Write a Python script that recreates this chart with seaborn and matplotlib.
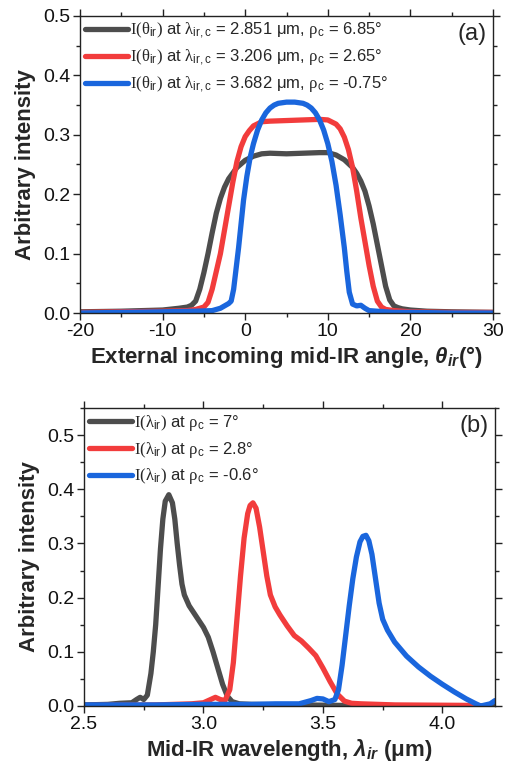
import numpy as np
import pandas as pd
import matplotlib
matplotlib.use("Agg")
import matplotlib.pyplot as plt
import seaborn as sns
from matplotlib.ticker import MultipleLocator, FormatStrFormatter

sns.set_theme(style="ticks")
plt.rcParams["font.family"] = ["Liberation Sans", "DejaVu Sans"]
plt.rcParams["axes.unicode_minus"] = False
plt.rcParams["mathtext.fontset"] = "custom"
plt.rcParams["mathtext.rm"] = "Liberation Serif"
plt.rcParams["mathtext.sf"] = "Liberation Sans"
plt.rcParams["mathtext.it"] = "Liberation Sans:italic"
plt.rcParams["mathtext.bf"] = "Liberation Sans:bold"
plt.rcParams["mathtext.bfit"] = "Liberation Sans:italic:bold"

# ---------------- panel (a): angular intensity profiles ----------------
theta_k = [-20, -15, -10, -8, -7, -6.5, -6, -5.5, -5, -4.5, -4, -3.5, -3, -2.5, -2, -1, 0, 1, 2, 3, 5, 7,
           9, 10, 11, 12, 13, 13.5, 14, 14.5, 15, 15.5, 16, 16.5, 17, 17.5, 18, 18.5, 19, 20, 22, 25, 30]
I_k = [0.002, 0.003, 0.005, 0.008, 0.01, 0.013, 0.02, 0.04, 0.068, 0.1, 0.135, 0.168, 0.193, 0.212, 0.226,
       0.245, 0.257, 0.264, 0.268, 0.269, 0.268, 0.269, 0.27, 0.27, 0.266, 0.258, 0.245, 0.235, 0.222,
       0.205, 0.18, 0.15, 0.115, 0.08, 0.045, 0.022, 0.012, 0.009, 0.007, 0.005, 0.003, 0.002, 0.001]

theta_r = [-20, -15, -10, -7, -6, -5, -4.5, -4, -3.5, -3, -2.5, -2, -1.5, -1, -0.5, 0, 0.5, 1, 2, 3, 5, 7,
           9, 10, 11, 11.5, 12, 12.5, 13, 13.5, 14, 14.5, 15, 15.5, 16, 16.5, 17, 18, 20, 25, 30]
I_r = [0.001, 0.002, 0.003, 0.004, 0.006, 0.01, 0.018, 0.04, 0.07, 0.1, 0.14, 0.18, 0.22, 0.255, 0.28,
       0.297, 0.307, 0.315, 0.322, 0.323, 0.324, 0.325, 0.326, 0.325, 0.318, 0.31, 0.296, 0.275, 0.245,
       0.205, 0.16, 0.12, 0.08, 0.045, 0.02, 0.01, 0.006, 0.004, 0.002, 0.001, 0.001]

theta_b = [-20, -15, -10, -6, -4, -3, -2.5, -2, -1.7, -1.4, -1.1, -0.8, -0.5, -0.2, 0.2, 0.6, 1, 1.5, 2, 2.5,
           3, 3.5, 4, 5, 6, 7, 7.5, 8, 8.5, 9, 9.5, 10, 10.5, 11, 11.5, 12, 12.3, 12.6, 13, 13.5, 14, 14.5,
           15, 16, 17, 18, 20, 25, 30]
I_b = [0.0, 0.001, 0.002, 0.003, 0.004, 0.008, 0.012, 0.016, 0.02, 0.04, 0.075, 0.11, 0.15, 0.19, 0.23,
       0.262, 0.285, 0.308, 0.325, 0.337, 0.345, 0.35, 0.353, 0.355, 0.355, 0.353, 0.35, 0.345, 0.337,
       0.325, 0.308, 0.285, 0.255, 0.215, 0.165, 0.11, 0.07, 0.035, 0.015, 0.012, 0.013, 0.008, 0.004,
       0.003, 0.002, 0.001, 0.001, 0.0, 0.0]

# ---------------- panel (b): spectral intensity profiles ----------------
lam_k = [2.50, 2.60, 2.65, 2.70, 2.72, 2.735, 2.75, 2.765, 2.78, 2.79, 2.80, 2.81, 2.82, 2.83, 2.84, 2.855,
         2.87, 2.88, 2.89, 2.90, 2.91, 2.92, 2.94, 2.97, 3.00, 3.02, 3.04, 3.06, 3.08, 3.10, 3.12, 3.15,
         3.20, 3.40, 3.60, 4.22]
Il_k = [0.002, 0.003, 0.005, 0.006, 0.012, 0.016, 0.012, 0.02, 0.06, 0.1, 0.15, 0.22, 0.29, 0.345, 0.378,
        0.39, 0.375, 0.345, 0.3, 0.26, 0.225, 0.205, 0.185, 0.165, 0.145, 0.127, 0.1, 0.07, 0.04, 0.018,
        0.008, 0.004, 0.003, 0.002, 0.001, 0.0]

lam_r = [2.50, 2.80, 2.95, 3.00, 3.03, 3.05, 3.07, 3.09, 3.11, 3.125, 3.14, 3.155, 3.17, 3.185, 3.195,
         3.207, 3.22, 3.235, 3.25, 3.265, 3.28, 3.30, 3.32, 3.35, 3.38, 3.41, 3.44, 3.47, 3.50, 3.53, 3.56,
         3.59, 3.62, 3.66, 3.80, 4.15]
Il_r = [0.001, 0.002, 0.004, 0.006, 0.012, 0.016, 0.012, 0.01, 0.03, 0.08, 0.16, 0.24, 0.31, 0.355, 0.37,
        0.375, 0.365, 0.33, 0.285, 0.24, 0.205, 0.183, 0.168, 0.148, 0.13, 0.12, 0.107, 0.093, 0.07, 0.045,
        0.022, 0.009, 0.005, 0.004, 0.002, 0.001]

lam_b = [2.50, 2.80, 3.00, 3.20, 3.30, 3.40, 3.45, 3.475, 3.50, 3.525, 3.55, 3.565, 3.58, 3.595, 3.61,
         3.625, 3.64, 3.655, 3.667, 3.68, 3.692, 3.705, 3.72, 3.735, 3.75, 3.77, 3.80, 3.85, 3.90, 3.95,
         4.00, 4.05, 4.10, 4.14, 4.16, 4.18, 4.20, 4.22]
Il_b = [0.002, 0.002, 0.003, 0.003, 0.004, 0.004, 0.01, 0.014, 0.013, 0.008, 0.012, 0.03, 0.075, 0.13,
        0.185, 0.235, 0.275, 0.303, 0.313, 0.315, 0.305, 0.28, 0.235, 0.19, 0.16, 0.14, 0.118, 0.092,
        0.072, 0.055, 0.04, 0.026, 0.013, 0.004, 0.0, 0.002, 0.004, 0.01]

labels_a = [
    r"$\mathrm{I(\theta}_{\mathsf{ir}}\mathrm{)}$ at $\mathrm{\lambda}_{\mathsf{ir,c}}$ = 2.851 μm, $\mathrm{\rho}_{\mathsf{c}}$ = 6.85°",
    r"$\mathrm{I(\theta}_{\mathsf{ir}}\mathrm{)}$ at $\mathrm{\lambda}_{\mathsf{ir,c}}$ = 3.206 μm, $\mathrm{\rho}_{\mathsf{c}}$ = 2.65°",
    r"$\mathrm{I(\theta}_{\mathsf{ir}}\mathrm{)}$ at $\mathrm{\lambda}_{\mathsf{ir,c}}$ = 3.682 μm, $\mathrm{\rho}_{\mathsf{c}}$ = -0.75°",
]
labels_b = [
    r"$\mathrm{I(\lambda}_{\mathsf{ir}}\mathrm{)}$ at $\mathrm{\rho}_{\mathsf{c}}$ = 7°",
    r"$\mathrm{I(\lambda}_{\mathsf{ir}}\mathrm{)}$ at $\mathrm{\rho}_{\mathsf{c}}$ = 2.8°",
    r"$\mathrm{I(\lambda}_{\mathsf{ir}}\mathrm{)}$ at $\mathrm{\rho}_{\mathsf{c}}$ = -0.6°",
]
colors = ["#4d4d4d", "#f23c3c", "#1a66dd"]

fig = plt.figure(figsize=(5.05, 7.67), dpi=100)
ax_a = fig.add_axes([80 / 505, 1 - 313 / 767, 413 / 505, 297 / 767])
ax_b = fig.add_axes([84 / 505, 1 - 706 / 767, 411 / 505, 298 / 767])

for xs, ys, lab, c in zip([theta_k, theta_r, theta_b], [I_k, I_r, I_b], labels_a, colors):
    df = pd.DataFrame({"x": xs, "y": ys})
    sns.lineplot(data=df, x="x", y="y", ax=ax_a, color=c, lw=3.8, label=lab, sort=False)

for xs, ys, lab, c in zip([lam_k, lam_r, lam_b], [Il_k, Il_r, Il_b], labels_b, colors):
    df = pd.DataFrame({"x": xs, "y": ys})
    sns.lineplot(data=df, x="x", y="y", ax=ax_b, color=c, lw=3.8, label=lab, sort=False)


def style_axes(ax, xlim, ylim, xmaj, xmin, ymaj, ymin):
    ax.set_xlim(*xlim)
    ax.set_ylim(*ylim)
    ax.xaxis.set_major_locator(MultipleLocator(xmaj))
    ax.xaxis.set_minor_locator(MultipleLocator(xmin))
    ax.yaxis.set_major_locator(MultipleLocator(ymaj))
    ax.yaxis.set_minor_locator(MultipleLocator(ymin))
    ax.yaxis.set_major_formatter(FormatStrFormatter("%.1f"))
    for s in ax.spines.values():
        s.set_visible(True)
        s.set_linewidth(1.0)
        s.set_color("#222222")
    ax.tick_params(which="both", direction="out", top=True, right=True, color="#222222",
                   labeltop=False, labelright=False)
    ax.tick_params(which="major", length=5, width=1.0, labelsize=14, pad=2, labelcolor="#111111")
    ax.tick_params(which="minor", length=3, width=1.0)
    ax.set_ylabel("Arbitrary intensity", fontsize=16, fontweight="bold", labelpad=5)


style_axes(ax_a, (-20, 30), (0, 0.5), 10, 5, 0.1, 0.05)
style_axes(ax_b, (2.5, 4.22), (0, 0.55), 0.5, 0.25, 0.1, 0.05)
ax_b.xaxis.set_major_formatter(FormatStrFormatter("%.1f"))

ax_a.set_xlabel(r"External incoming mid-IR angle, $\mathbfit{\theta_{ir}}$(°)", fontsize=16,
                fontweight="bold", labelpad=3)
ax_b.set_xlabel(r"Mid-IR wavelength, $\mathbfit{\lambda_{ir}}$ (μm)", fontsize=16,
                fontweight="bold", labelpad=3)

for ax, tag in [(ax_a, "(a)"), (ax_b, "(b)")]:
    ax.text(0.985, 0.975, tag, transform=ax.transAxes, ha="right", va="top", fontsize=17)
    ax.legend(loc="upper left", frameon=False, fontsize=12, handlelength=2.6, handletextpad=0.1,
              labelspacing=0.4, borderaxespad=0.0, borderpad=0.3)

fig.savefig("out.png", dpi=100, facecolor="white")
